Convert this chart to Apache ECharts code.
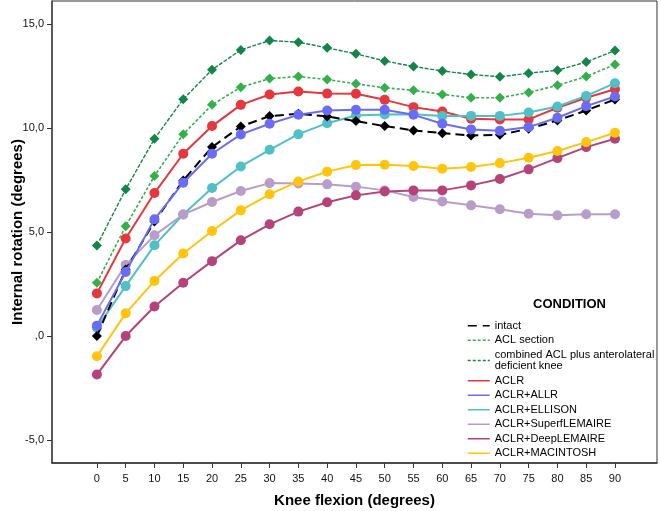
<!DOCTYPE html>
<html>
<head>
<meta charset="utf-8">
<script src="https://cdn.jsdelivr.net/npm/echarts@6/dist/echarts.min.js"></script>
<style>
html,body{margin:0;padding:0;background:#fff;}
#chart{width:661px;height:511px;}
</style>
</head>
<body>
<div id="chart"></div>
<script>
// ---- data ----
const flexion = [0,5,10,15,20,25,30,35,40,45,50,55,60,65,70,75,80,85,90];
const yTicks = [-5,0,5,10,15];
const xTicks = flexion;

const intact      = [0.00,3.20,5.50,7.48,9.08,10.07,10.57,10.68,10.55,10.33,10.09,9.88,9.75,9.64,9.67,9.96,10.36,10.84,11.37];
const aclSection  = [2.56,5.28,7.69,9.70,11.11,11.96,12.37,12.47,12.33,12.12,11.93,11.81,11.61,11.45,11.45,11.70,12.05,12.47,13.05];
const combinedAL  = [4.35,7.05,9.48,11.38,12.80,13.75,14.20,14.12,13.85,13.56,13.22,12.95,12.74,12.57,12.46,12.63,12.77,13.17,13.72];
const aclr        = [2.05,4.69,6.87,8.76,10.09,11.11,11.61,11.75,11.65,11.64,11.35,11.00,10.79,10.44,10.41,10.41,10.97,11.45,11.86];
const aclrAllr    = [0.50,3.08,5.61,7.37,8.76,9.69,10.20,10.63,10.84,10.87,10.87,10.63,10.20,9.93,9.86,10.04,10.49,11.05,11.51];
const aclrEllison = [0.40,2.40,4.36,5.84,7.11,8.15,8.95,9.70,10.23,10.60,10.65,10.66,10.57,10.58,10.58,10.74,11.03,11.54,12.15];
const aclrSuperf  = [1.25,3.42,4.84,5.84,6.44,6.97,7.35,7.33,7.29,7.18,7.00,6.68,6.47,6.28,6.09,5.88,5.80,5.85,5.85];
const aclrDeep    = [-1.85,0.00,1.42,2.56,3.60,4.60,5.37,5.98,6.43,6.76,6.95,7.00,7.00,7.24,7.55,8.01,8.55,9.08,9.48];
const aclrMac     = [-0.97,1.09,2.65,3.97,5.05,6.04,6.81,7.43,7.90,8.22,8.23,8.17,8.04,8.12,8.31,8.57,8.89,9.32,9.77];

const names = ['intact','ACL section','combined ACL plus anterolateral\ndeficient knee','ACLR','ACLR+ALLR','ACLR+ELLISON','ACLR+SuperfLEMAIRE','ACLR+DeepLEMAIRE','ACLR+MACINTOSH'];

// ---- chart ----
const FONT = '"Liberation Sans", Arial, sans-serif';
function pairs(arr){ return arr.map((v,i)=>[flexion[i], v]); }
function yLabel(v){
  if (v === 0) return ',0';
  return String(v.toFixed(1)).replace('.', ',');
}

const styles = [
  {data:intact, color:'#000000', symbol:'diamond', size:10, width:2, type:[9,5], z:3},
  {data:aclSection, color:'#34b04a', symbol:'diamond', size:10, width:1.6, type:[3,2], z:2},
  {data:combinedAL, color:'#148548', symbol:'diamond', size:10, width:1.4, type:[4,1.5], z:2},
  {data:aclr, color:'#e6373d', symbol:'circle', size:10, width:2, type:'solid', z:2},
  {data:aclrAllr, color:'#6a6cf6', symbol:'circle', size:10, width:2, type:'solid', z:4},
  {data:aclrEllison, color:'#4fc0c6', symbol:'circle', size:10, width:2, type:'solid', z:2},
  {data:aclrSuperf, color:'#b89dc9', symbol:'circle', size:10, width:2, type:'solid', z:2},
  {data:aclrDeep, color:'#b5437a', symbol:'circle', size:10, width:2, type:'solid', z:2},
  {data:aclrMac, color:'#ffc40d', symbol:'circle', size:10, width:2, type:'solid', z:2}
];

const series = styles.map((s,i)=>({
  name: names[i],
  type: 'line',
  data: pairs(s.data),
  symbol: s.symbol,
  symbolSize: s.size,
  z: s.z,
  itemStyle: {color: s.color},
  lineStyle: {color: s.color, width: s.width, type: s.type},
  emphasis: {disabled: true},
  animation: false
}));

const legendData = names.map((n,i)=>{
  const s = styles[i];
  let lt = s.type;
  if (i === 0) lt = [9,6];
  if (i === 1) lt = [3,2];
  if (i === 2) lt = [3,2];
  return {name:n, lineStyle:{color:s.color, width: (i<3?1.3:1.5), type: lt}};
});

const chart = echarts.init(document.getElementById('chart'), null, {renderer:'canvas'});
chart.setOption({
  animation: false,
  backgroundColor: '#ffffff',
  textStyle: {fontFamily: FONT},
  title: {
    text: 'CONDITION',
    left: 533, top: 298, padding: 0,
    textStyle: {fontFamily: FONT, fontSize: 13, fontWeight: 'bold', color: '#000'}
  },
  legend: {
    orient: 'vertical',
    left: 467, top: 320, padding: 0,
    itemWidth: 22, itemHeight: 10, itemGap: 3,
    data: legendData,
    itemStyle: {opacity: 0},
    selectedMode: false,
    textStyle: {fontFamily: FONT, fontSize: 11, color: '#000', lineHeight: 11.5}
  },
  grid: {
    left: 52, right: 4, top: 1, bottom: 48,
    outerBoundsMode: 'none',
    containLabel: false,
    show: true, borderColor: '#333', borderWidth: 1
  },
  xAxis: {
    type: 'value',
    min: -7.8, max: 97.3,
    name: 'Knee flexion (degrees)',
    nameLocation: 'middle',
    nameMoveOverlap: false,
    nameGap: 30,
    nameTextStyle: {fontFamily: FONT, fontSize: 15, fontWeight: 'bold', color: '#000'},
    splitLine: {show: false},
    axisLine: {onZero: false, lineStyle: {color: '#333', width: 1.5}},
    axisTick: {show: true, length: 5, lineStyle: {color: '#333'}, customValues: xTicks},
    axisLabel: {customValues: xTicks, fontFamily: FONT, fontSize: 11, color: '#111', margin: 10}
  },
  yAxis: {
    type: 'value',
    min: -6.1, max: 16.1,
    name: 'Internal rotation (degrees)',
    nameLocation: 'middle',
    nameMoveOverlap: false,
    nameGap: 27,
    nameTextStyle: {fontFamily: FONT, fontSize: 15, fontWeight: 'bold', color: '#000'},
    splitLine: {show: false},
    axisLine: {show: true, onZero: false, lineStyle: {color: '#444', width: 1.5}},
    axisTick: {show: true, length: 5, lineStyle: {color: '#333'}, customValues: yTicks},
    axisLabel: {customValues: yTicks, formatter: yLabel, fontFamily: FONT, fontSize: 11, color: '#111', margin: 8}
  },
  series: series
});
</script>
</body>
</html>
